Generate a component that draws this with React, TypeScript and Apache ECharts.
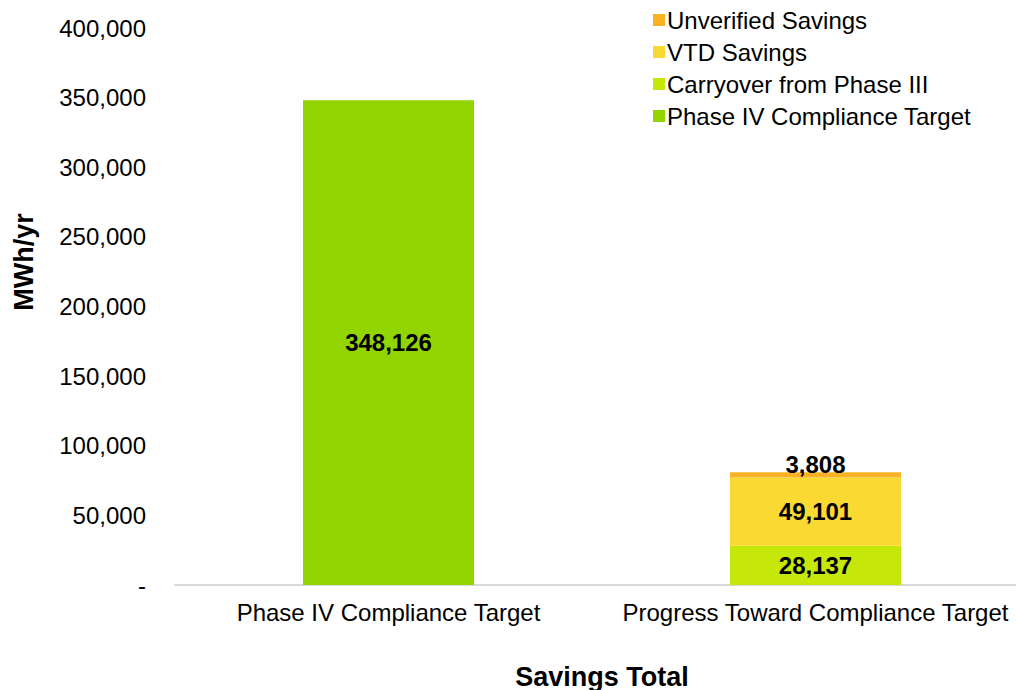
import React, { useEffect, useRef } from "react";
import * as echarts from "echarts";

const categories = ["Phase IV Compliance Target", "Progress Toward Compliance Target"];
const phaseIVTarget = [348126, null];
const carryover = [null, 28137];
const vtdSavings = [null, 49101];
const unverified = [null, 3808];
const legendOrder = [
  "Unverified Savings",
  "VTD Savings",
  "Carryover from Phase III",
  "Phase IV Compliance Target",
];

const FONT = "'Liberation Sans', Arial, sans-serif";
const fmt = (v: number) => (v === 0 ? "-" : v.toLocaleString("en-US"));

export default function App() {
  const ref = useRef<HTMLDivElement>(null);
  useEffect(() => {
    document.body.style.margin = "0";
    const chart = echarts.init(ref.current!, null, { renderer: "svg" });
    const label = (pos: any, dist = 5) => ({
      show: true,
      position: pos,
      distance: dist,
      fontFamily: FONT,
      fontSize: 24,
      fontWeight: "bold",
      color: "#000",
      formatter: (p: any) => fmt(p.value),
    });
    chart.setOption({
      animation: false,
      textStyle: { fontFamily: FONT },
      grid: { left: 175, top: 28, width: 854, bottom: 105, outerBoundsMode: "none", containLabel: false },
      legend: {
        data: legendOrder,
        orient: "vertical",
        left: 648,
        top: 3,
        itemWidth: 12,
        itemHeight: 12,
        itemGap: 8,
        icon: "rect",
        textStyle: { fontFamily: FONT, fontSize: 24, color: "#000", padding: [0, 0, 0, -3] },
      },
      xAxis: {
        type: "category",
        data: categories,
        axisLine: { lineStyle: { color: "#d9d9d9", width: 2 } },
        axisTick: { show: false },
        axisLabel: {
          fontFamily: FONT,
          fontSize: 24,
          color: "#000",
          margin: 15,
          interval: 0,
          hideOverlap: false,
        },
        name: "Savings Total",
        nameLocation: "middle",
        nameGap: 78,
        nameTextStyle: { fontFamily: FONT, fontSize: 27, fontWeight: "bold", color: "#000" },
      },
      yAxis: {
        type: "value",
        min: 0,
        max: 400000,
        interval: 50000,
        splitLine: { show: false },
        axisLine: { show: false },
        axisTick: { show: false },
        axisLabel: {
          fontFamily: FONT,
          fontSize: 24,
          color: "#000",
          margin: 29,
          formatter: (v: number) => fmt(v),
        },
      },
      graphic: [
        {
          type: "text",
          x: 24,
          y: 262,
          rotation: Math.PI / 2,
          style: {
            text: "MWh/yr",
            fontFamily: FONT,
            fontSize: 27,
            fontWeight: "bold",
            fill: "#000",
            align: "center",
            verticalAlign: "middle",
          },
        },
      ],
      series: [
        {
          name: "Phase IV Compliance Target",
          type: "bar",
          stack: "s",
          barWidth: 171,
          data: phaseIVTarget,
          itemStyle: { color: "#92D400" },
          label: label("inside"),
        },
        {
          name: "Carryover from Phase III",
          type: "bar",
          stack: "s",
          barWidth: 171,
          data: carryover,
          itemStyle: { color: "#C5E80A" },
          label: label("inside"),
        },
        {
          name: "VTD Savings",
          type: "bar",
          stack: "s",
          barWidth: 171,
          data: vtdSavings,
          itemStyle: { color: "#FADA32" },
          label: label("inside"),
        },
        {
          name: "Unverified Savings",
          type: "bar",
          stack: "s",
          barWidth: 171,
          data: unverified,
          itemStyle: { color: "#F9B224" },
          label: label("top", -4),
        },
      ],
    });
    return () => chart.dispose();
  }, []);
  return (
    <div
      ref={ref}
      style={{ position: "absolute", left: 0, top: 0, width: 1016, height: 690 }}
    />
  );
}
